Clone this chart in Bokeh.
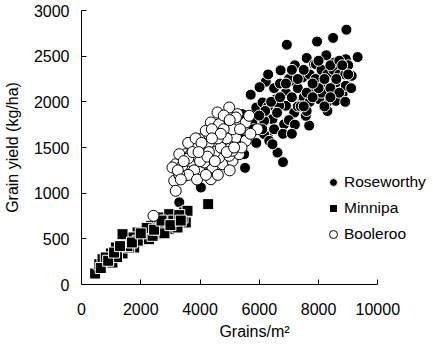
from bokeh.plotting import figure
from bokeh.models import Legend, LegendItem, FixedTicker
from bokeh.embed import file_html
from bokeh.resources import INLINE

# ---- data ----
rose_x = [8940, 8490, 7950, 6930, 9320, 8920, 7600, 8260, 6720, 6220, 6010, 5710, 5900, 6615, 6800,
          5520, 5490, 4030, 3300, 7685, 9120, 8810, 8300, 8300, 7850, 7065, 7460, 7795, 7460, 6560,
          6900, 6110, 8530, 7910, 8865, 8135, 8585, 8920, 8020, 8585, 7850, 6670, 7180, 7570, 6840,
          6445, 6165, 6280, 6390, 5435, 5435, 5770, 6165, 6335, 6445,
          6300, 6500, 6700, 6900, 7100, 7300, 7300, 7500, 7700, 7700, 7900, 8100, 8100, 8300, 8400,
          8500, 8700, 8700, 8900, 9000, 9100, 7000, 7200, 7400, 6200, 6500, 6800, 7000, 7200, 7500,
          8000, 8400, 6000, 5800, 5900, 6100, 6600, 8200, 8700, 7600, 7100, 6300, 8900,
          6400, 6700, 6900, 7100, 7300, 7600, 7800, 8000, 8200, 8400, 8600, 8800, 9000, 7500, 7800]
rose_y = [2790, 2700, 2660, 2625, 2490, 2467, 2480, 2510, 2345, 2220, 2160, 2078, 1938, 1445, 1340,
          1277, 1427, 1062, 900, 1740, 2285, 2084, 2000, 1900, 2412, 2230, 2267, 2138, 2029, 2029,
          1957, 1993, 2430, 2412, 2376, 2212, 2212, 2176, 2029, 2011, 2120, 1957, 1883, 1847, 1755,
          1810, 1792, 1628, 1555, 1591, 1865, 1792, 1646, 1573, 1536,
          1950, 2150, 2200, 2100, 2050, 2150, 1950, 2050, 2000, 2300, 2250, 2350, 2100, 2300, 2150,
          2350, 2300, 2100, 2300, 2400, 2150, 1800, 1750, 1950, 1900, 1700, 1650, 2250, 2400, 2350,
          2450, 2400, 1850, 1700, 1550, 1700, 1880, 1950, 2450, 1900, 1650, 2300, 2000,
          2000, 2050, 2200, 2350, 2250, 2100, 2050, 2150, 2250, 2050, 2250, 2400, 2300, 1950, 2200]

minn_x = [460, 600, 990, 1385, 1495, 1890, 2170, 2340, 2510, 2735, 2960, 3015, 3180, 3465, 3520,
          4275, 710, 1160, 1720, 2060, 1780, 2280, 1610, 820, 1045, 2620, 2845, 3240, 3410, 3577,
          2960, 1385, 2400, 1200, 1900, 2200, 2600, 3100, 3300, 1550, 2800,
          650, 900, 1100, 1300, 1700, 2000, 2450, 2700, 3000, 3350]
minn_y = [120, 222, 340, 340, 460, 570, 588, 643, 551, 643, 606, 734, 770, 788, 679,
          880, 277, 405, 515, 515, 405, 496, 405, 296, 240, 734, 697, 624, 734, 807,
          770, 551, 533, 300, 480, 620, 600, 700, 760, 420, 560,
          180, 260, 350, 420, 460, 560, 600, 700, 650, 700]

bool_x = [4985, 4590, 5265, 4700, 5265, 4365, 4195, 4535, 3970, 3800, 4195, 3520, 4930, 5210, 4870,
          3180, 3070, 4420, 3130, 3465, 4085, 4365, 3180, 3300, 3690, 3520, 3970, 4420, 4760, 5095,
          5320, 4085, 4310, 4645, 4985, 5210, 5545, 5940, 4645, 4760, 5545, 5095, 4420, 4140, 2430,
          5660, 3700, 3900, 4300, 4500, 4700, 4900, 5100, 4800, 4400, 3800, 4000, 4600, 3600, 3400,
          3300, 4800, 5400, 5700, 5000, 3900, 4200, 4600, 3600, 4300, 5000,
          3250, 3350, 3600, 3750, 3850, 4050, 4250, 4500, 4700, 4900, 5150, 5350, 4400, 3950, 3450]
bool_y = [1938, 1883, 1865, 1719, 1755, 1774, 1683, 1610, 1591, 1500, 1500, 1427, 1500, 1610, 1409,
          1317, 1281, 1536, 1135, 1190, 1226, 1153, 1026, 1427, 1427, 1281, 1263, 1281, 1317, 1354,
          1427, 1427, 1372, 1390, 1409, 1829, 1774, 1700, 1755, 1573, 1573, 1464, 1427, 1336, 752,
          1847, 1350, 1400, 1550, 1450, 1500, 1600, 1700, 1700, 1700, 1250, 1350, 1600, 1200, 1300,
          1200, 1850, 1500, 1650, 1800, 1150, 1200, 1200, 1550, 1450, 1250,
          1250, 1150, 1380, 1450, 1600, 1550, 1400, 1350, 1650, 1450, 1500, 1700, 1600, 1450, 1350]

x_axis_end = 10000
x_ticks = [0, 2000, 4000, 6000, 8000, 10000]
y_ticks = [0, 500, 1000, 1500, 2000, 2500, 3000]
series_names = ["Roseworthy", "Minnipa", "Booleroo"]

FONT = "Liberation Sans"

# frame extends right of the 10000 mark so the legend text is not clipped;
# the axis line itself is bounded at 10000
p = figure(frame_width=346, frame_height=274, x_range=(0, 11677), y_range=(0, 3000),
           output_backend="svg", toolbar_location=None,
           min_border_left=71, min_border_right=0, min_border_top=10, min_border_bottom=0)
p.outline_line_color = None
p.grid.visible = False
p.background_fill_color = "white"

r1 = p.scatter(rose_x, rose_y, marker="circle", size=11, fill_color="black",
               line_color="white", line_width=1)
r2 = p.scatter(minn_x, minn_y, marker="square", size=11, fill_color="black",
               line_color="white", line_width=1)
r3 = p.scatter(bool_x, bool_y, marker="circle", size=11, fill_color="white",
               line_color="black", line_width=1)

for ax in (p.xaxis[0], p.yaxis[0]):
    ax.axis_line_color = "black"
    ax.major_tick_line_color = "black"
    ax.major_tick_in = 5
    ax.major_tick_out = 0
    ax.minor_tick_line_color = None
    ax.major_label_text_font = FONT
    ax.major_label_text_font_size = "16px"
    ax.major_label_text_color = "black"
    ax.axis_label_text_font = FONT
    ax.axis_label_text_font_size = "16px"
    ax.axis_label_text_font_style = "normal"
    ax.axis_label_text_color = "black"

p.xaxis.bounds = (0, x_axis_end)
p.xaxis.ticker = FixedTicker(ticks=x_ticks)
p.yaxis.ticker = FixedTicker(ticks=y_ticks)
p.xaxis.axis_label = "Grains/m²"
p.yaxis.axis_label = "Grain yield (kg/ha)"
p.xaxis.major_label_standoff = 18
p.yaxis.major_label_standoff = 12
p.xaxis.axis_label_standoff = 5
p.yaxis.axis_label_standoff = 10

legend = Legend(items=[LegendItem(label=series_names[0], renderers=[r1]),
                       LegendItem(label=series_names[1], renderers=[r2]),
                       LegendItem(label=series_names[2], renderers=[r3])],
                location=(242, 40), padding=0, margin=0, spacing=6,
                glyph_width=20, glyph_height=20, label_standoff=1,
                label_text_font=FONT, label_text_font_size="15.5px",
                label_text_color="black",
                background_fill_alpha=0, border_line_alpha=0)
p.add_layout(legend, "center")

open("out.html", "w").write(file_html(p, INLINE))
